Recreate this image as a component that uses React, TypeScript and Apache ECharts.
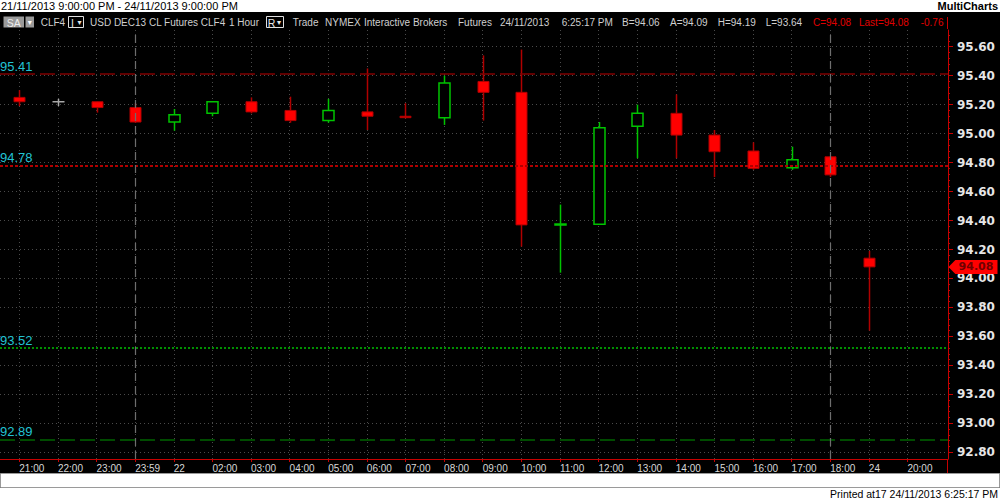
import React, { useEffect, useRef } from 'react';
import * as echarts from 'echarts';

const timeLabels = ['21:00', '22:00', '23:00', '23:59', '22', '02:00', '03:00', '04:00', '05:00', '06:00', '07:00', '08:00', '09:00', '10:00', '11:00', '12:00', '13:00', '14:00', '15:00', '16:00', '17:00', '18:00', '24', '20:00'];
const opens = [95.25, 95.22, 95.22, 95.18, 95.08, 95.14, 95.22, 95.16, 95.09, 95.15, 95.12, 95.11, 95.36, 95.285, 94.372, 94.375, 95.05, 95.14, 94.99, 94.88, 94.765, 94.84, 94.14];
const closes = [95.22, 95.22, 95.18, 95.08, 95.13, 95.22, 95.15, 95.09, 95.16, 95.12, 95.11, 95.35, 95.285, 94.37, 94.376, 95.04, 95.14, 94.99, 94.875, 94.76, 94.82, 94.715, 94.08];
const lows = [95.19, 95.19, 95.145, 95.075, 95.02, 95.12, 95.14, 95.075, 95.075, 95.025, 95.105, 95.06, 95.09, 94.22, 94.04, 94.375, 94.83, 94.83, 94.70, 94.75, 94.75, 94.70, 93.64];
const highs = [95.30, 95.24, 95.22, 95.21, 95.17, 95.22, 95.25, 95.255, 95.24, 95.45, 95.21, 95.40, 95.54, 95.58, 94.51, 95.08, 95.20, 95.27, 95.025, 94.94, 94.91, 94.845, 94.19];
const priceTicks = [92.8, 93.0, 93.2, 93.4, 93.6, 93.8, 94.0, 94.2, 94.4, 94.6, 94.8, 95.0, 95.2, 95.4, 95.6];
const levelValues = [95.41, 94.78, 93.52, 92.89];
const levelLabels = ['95.41', '94.78', '93.52', '92.89'];
const sessionBreaks = [3, 21];
const lastPrice = 94.08;

const Y_MIN = 92.7538;
const Y_MAX = 95.7153;
const GREEN = '#00c400';
const RED = '#ff0000';
const WICK_RED = '#b00000';
const GRAY = '#a8a8a8';
const CYAN = '#22c3d3';
const AXIS_RED = '#c80000';
const GRID = '#4a4a4a';
const FONT = 'Liberation Sans, Arial, sans-serif';

const levelStyles = [
  { color: '#800000', type: [15, 5], width: 1.5 },
  { color: '#b00000', type: [3, 2], width: 2 },
  { color: '#00c000', type: [2, 2], width: 1.5 },
  { color: '#006400', type: [15, 5], width: 1.5 },
];

const minorTicks: number[] = [];
for (let k = 0; k < priceTicks.length - 1; k++) {
  for (let m = 1; m < 5; m++) minorTicks.push(+(priceTicks[k] + (m * 0.2) / 5).toFixed(3));
}
minorTicks.push(95.64, 95.68);

const headerText = (text: string, x: number, color = '#cfcfcf') => ({
  type: 'text',
  x,
  y: 22.5,
  style: { text, fill: color, fontSize: 10, fontFamily: FONT, textAlign: 'left', textVerticalAlign: 'middle' },
});

export default function App() {
  const ref = useRef<HTMLDivElement>(null);
  useEffect(() => {
    const chart = echarts.init(ref.current!, undefined, { renderer: 'svg' });
    const candleData = opens.map((o, i) => [i, o, closes[i], lows[i], highs[i]]);
    const tickIdx = timeLabels.map((_, i) => i);

    const option: any = {
      animation: false,
      backgroundColor: '#000',
      grid: { left: 0, right: 52, top: 30, bottom: 41, containLabel: false },
      xAxis: {
        type: 'value',
        min: -0.5,
        max: 24.05,
        position: 'bottom',
        axisLine: { show: true, onZero: false, lineStyle: { color: AXIS_RED, width: 1 } },
        axisTick: { show: true, customValues: tickIdx, length: 3, lineStyle: { color: AXIS_RED } },
        axisLabel: {
          show: true,
          customValues: tickIdx,
          formatter: (v: number) => timeLabels[Math.round(v)] ?? '',
          align: 'left',
          margin: 4,
          color: '#d8d8d8',
          fontSize: 10,
          fontFamily: FONT,
        },
        splitLine: { show: true, lineStyle: { color: GRID, type: [1, 3], width: 1 } },
      },
      yAxis: [
        {
          type: 'value',
          position: 'right',
          min: Y_MIN,
          max: Y_MAX,
          splitNumber: 14,
          axisLine: { show: true, onZero: false, lineStyle: { color: AXIS_RED, width: 1 } },
          axisTick: { show: true, customValues: priceTicks, length: 5, lineStyle: { color: AXIS_RED } },
          axisLabel: {
            show: true,
            customValues: priceTicks,
            formatter: (v: number) => v.toFixed(2),
            margin: 9,
            color: '#e6e6e6',
            fontSize: 12,
            lineHeight: 10,
            fontWeight: 'bold',
            fontFamily: 'DejaVu Sans, sans-serif',
          },
          splitLine: { show: true, lineStyle: { color: GRID, type: [1, 3], width: 1 } },
        },
        {
          type: 'value',
          position: 'right',
          min: Y_MIN,
          max: Y_MAX,
          axisLine: { show: false, onZero: false },
          axisTick: { show: true, customValues: minorTicks, length: 2, lineStyle: { color: AXIS_RED } },
          axisLabel: { show: false },
          splitLine: { show: false },
        },
      ],
      series: [
        {
          type: 'custom',
          yAxisIndex: 0,
          z: 3,
          encode: { x: 0, y: [1, 2, 3, 4] },
          data: candleData,
          renderItem: (params: any, api: any) => {
            const i = api.value(0);
            const o = api.value(1);
            const c = api.value(2);
            const l = api.value(3);
            const h = api.value(4);
            const pO = api.coord([i, o]);
            const pC = api.coord([i, c]);
            const pL = api.coord([i, l]);
            const pH = api.coord([i, h]);
            const w = api.size([1, 0])[0] * 0.285;
            const x = Math.round(pO[0]) + 0.5;
            const up = c > o;
            const down = c < o;
            const wick = up ? GREEN : down ? WICK_RED : GRAY;
            const children: any[] = [
              { type: 'line', shape: { x1: x, y1: pH[1], x2: x, y2: pL[1] }, style: { stroke: wick, lineWidth: 1.5 } },
            ];
            if (up || down) {
              const top = Math.min(pO[1], pC[1]);
              const hh = Math.max(Math.abs(pO[1] - pC[1]), 1);
              children.push({
                type: 'rect',
                shape: { x: x - w / 2, y: top, width: w, height: hh },
                style: up ? { fill: '#000', stroke: GREEN, lineWidth: 1.5 } : { fill: RED, stroke: WICK_RED, lineWidth: 1 },
              });
            } else {
              children.push({ type: 'line', shape: { x1: x - w / 2 - 0.5, y1: pO[1], x2: x + w / 2 + 0.5, y2: pO[1] }, style: { stroke: GRAY, lineWidth: 1.5 } });
            }
            return { type: 'group', children };
          },
          markLine: {
            silent: true,
            symbol: 'none',
            animation: false,
            data: [
              ...levelValues.map((v, k) => ({
                yAxis: v,
                lineStyle: levelStyles[k],
                label: {
                  show: true,
                  position: 'insideStartTop',
                  formatter: levelLabels[k],
                  color: CYAN,
                  fontSize: 13,
                  fontFamily: FONT,
                  distance: [0, 1],
                },
              })),
              ...sessionBreaks.map((b) => ({
                xAxis: b,
                lineStyle: { color: '#6e6e6e', type: [8, 5], width: 1.2 },
                label: { show: false },
              })),
            ],
          },
          markPoint: {
            silent: true,
            animation: false,
            data: [
              {
                coord: [24.05, lastPrice],
                value: lastPrice,
                symbol: 'path://M0,7L7,0L50,0L50,14L7,14Z',
                symbolSize: [49, 14],
                symbolKeepAspect: false,
                symbolOffset: [25, 0],
                itemStyle: { color: RED },
                label: {
                  show: true,
                  position: 'inside',
                  offset: [3, 0],
                  formatter: lastPrice.toFixed(2),
                  color: '#700000',
                  fontSize: 11,
                  lineHeight: 9,
                  fontWeight: 'bold',
                  fontFamily: 'DejaVu Sans, sans-serif',
                },
              },
            ],
          },
        },
      ],
      graphic: {
        elements: [
          { type: 'rect', shape: { x: 0, y: 0, width: 1000, height: 12 }, style: { fill: '#fff' }, silent: true },
          { type: 'rect', shape: { x: 0.5, y: 473.5, width: 999, height: 14 }, style: { fill: '#fff', stroke: '#9a9a9a', lineWidth: 1 }, silent: true },
          { type: 'rect', shape: { x: 0, y: 488, width: 1000, height: 12 }, style: { fill: '#fff' }, silent: true },
          {
            type: 'text', x: 1, y: 6,
            style: { text: '21/11/2013 9:00:00 PM - 24/11/2013 9:00:00 PM', fill: '#000', fontSize: 11, fontFamily: FONT, textAlign: 'left', textVerticalAlign: 'middle' },
          },
          {
            type: 'text', x: 998, y: 6,
            style: { text: 'MultiCharts', fill: '#000', fontSize: 11, fontWeight: 'bold', fontFamily: FONT, textAlign: 'right', textVerticalAlign: 'middle' },
          },
          {
            type: 'text', x: 998, y: 494,
            style: { text: 'Printed at17 24/11/2013 6:25:17 PM', fill: '#000', fontSize: 10.5, fontFamily: FONT, textAlign: 'right', textVerticalAlign: 'middle' },
          },
          { type: 'rect', shape: { x: 3.5, y: 16.5, width: 20.5, height: 11 }, style: { fill: '#9a9a9a' } },
          { type: 'text', x: 13.7, y: 22.5, style: { text: 'SA', fill: '#ececec', fontSize: 10.5, fontFamily: FONT, textAlign: 'center', textVerticalAlign: 'middle' } },
          { type: 'rect', shape: { x: 25.5, y: 16.5, width: 8.5, height: 11 }, style: { fill: '#9a9a9a' } },
          { type: 'text', x: 29.7, y: 22.5, style: { text: '▾', fill: '#fff', fontSize: 8, fontFamily: 'DejaVu Sans, sans-serif', textAlign: 'center', textVerticalAlign: 'middle' } },
          headerText('CLF4', 40.7),
          { type: 'rect', shape: { x: 68.5, y: 16.5, width: 15, height: 11 }, style: { fill: '#000', stroke: '#e0e0e0', lineWidth: 1 } },
          { type: 'text', x: 72.5, y: 22.5, style: { text: 'I', fill: '#e6e6e6', fontSize: 10.5, fontFamily: FONT, textAlign: 'center', textVerticalAlign: 'middle' } },
          { type: 'text', x: 79.5, y: 22.5, style: { text: '▾', fill: '#e6e6e6', fontSize: 8, fontFamily: 'DejaVu Sans, sans-serif', textAlign: 'center', textVerticalAlign: 'middle' } },
          headerText('USD DEC13 CL Futures CLF4', 90),
          headerText('1 Hour', 229),
          { type: 'rect', shape: { x: 266.5, y: 16.5, width: 17, height: 11 }, style: { fill: '#000', stroke: '#e0e0e0', lineWidth: 1 } },
          { type: 'text', x: 271.5, y: 22.5, style: { text: 'R', fill: '#e6e6e6', fontSize: 10.5, fontFamily: FONT, textAlign: 'center', textVerticalAlign: 'middle' } },
          { type: 'text', x: 279, y: 22.5, style: { text: '▾', fill: '#e6e6e6', fontSize: 8, fontFamily: 'DejaVu Sans, sans-serif', textAlign: 'center', textVerticalAlign: 'middle' } },
          headerText('Trade', 292.7),
          headerText('NYMEX', 325),
          headerText('Interactive Brokers', 364),
          headerText('Futures', 458),
          headerText('24/11/2013', 500),
          headerText('6:25:17 PM', 561.7),
          headerText('B=94.06', 622),
          headerText('A=94.09', 670),
          headerText('H=94.19', 717.7),
          headerText('L=93.64', 765.7),
          headerText('C=94.08', 813, '#e00000'),
          headerText('Last=94.08', 859, '#e00000'),
          headerText('-0.76', 920.7, '#e00000'),
          { type: 'line', shape: { x1: 947.5, y1: 17, x2: 947.5, y2: 29 }, style: { stroke: AXIS_RED, lineWidth: 1 } },
          { type: 'line', shape: { x1: 947.5, y1: 459, x2: 947.5, y2: 473 }, style: { stroke: AXIS_RED, lineWidth: 1 } },
        ],
      },
    };
    chart.setOption(option);
    return () => chart.dispose();
  }, []);
  return <div ref={ref} style={{ position: 'absolute', left: 0, top: 0, width: 1000, height: 500 }} />;
}
